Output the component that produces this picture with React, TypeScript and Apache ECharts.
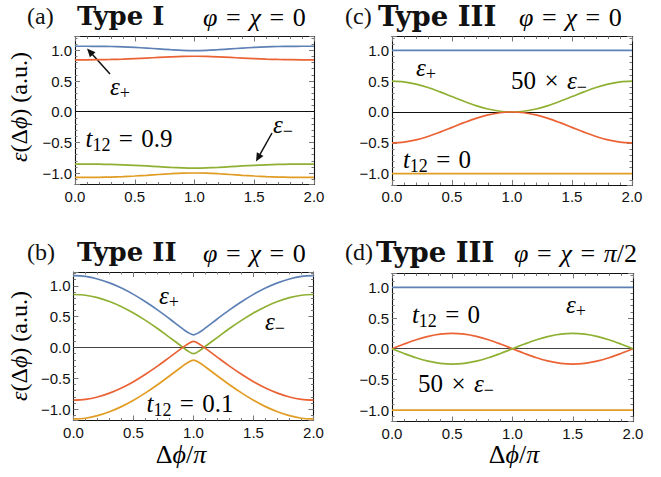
import React, { useEffect, useRef } from "react";
import * as echarts from "echarts";

// x positions (Δφ/π)
const X = [0, 0.1, 0.2, 0.3, 0.4, 0.5, 0.6, 0.7, 0.8, 0.9, 1.0, 1.1, 1.2, 1.3, 1.4, 1.5, 1.6, 1.7, 1.8, 1.9, 2.0];
const XB = [0, 0.1, 0.2, 0.3, 0.4, 0.5, 0.6, 0.7, 0.8, 0.9, 0.95, 1.0, 1.05, 1.1, 1.2, 1.3, 1.4, 1.5, 1.6, 1.7, 1.8, 1.9, 2.0];

// (a) Type I, t12 = 0.9
const aBlue = [1.066, 1.066, 1.065, 1.062, 1.056, 1.047, 1.036, 1.023, 1.01, 0.999, 0.995, 0.999, 1.01, 1.023, 1.036, 1.047, 1.056, 1.062, 1.065, 1.066, 1.066];
const aRed = [0.845, 0.845, 0.847, 0.851, 0.857, 0.865, 0.874, 0.884, 0.893, 0.9, 0.903, 0.9, 0.893, 0.884, 0.874, 0.865, 0.857, 0.851, 0.847, 0.845, 0.845];
const aGreen = [-0.852, -0.852, -0.854, -0.858, -0.864, -0.873, -0.883, -0.895, -0.906, -0.914, -0.917, -0.914, -0.906, -0.895, -0.883, -0.873, -0.864, -0.858, -0.854, -0.852, -0.852];
const aOrange = [-1.07, -1.07, -1.068, -1.064, -1.057, -1.047, -1.035, -1.022, -1.01, -1.001, -0.998, -1.001, -1.01, -1.022, -1.035, -1.047, -1.057, -1.064, -1.068, -1.07, -1.07];

// (b) Type II, t12 = 0.1
const bBlue = [1.165, 1.153, 1.112, 1.048, 0.965, 0.862, 0.742, 0.61, 0.467, 0.318, 0.248, 0.205, 0.248, 0.318, 0.467, 0.61, 0.742, 0.862, 0.965, 1.048, 1.112, 1.153, 1.165];
const bGreen = [0.86, 0.848, 0.808, 0.745, 0.662, 0.56, 0.44, 0.308, 0.165, 0.02, -0.052, -0.1, -0.052, 0.02, 0.165, 0.308, 0.44, 0.56, 0.662, 0.745, 0.808, 0.848, 0.86];
const bRed = [-0.855, -0.843, -0.803, -0.74, -0.657, -0.555, -0.435, -0.303, -0.16, -0.015, 0.052, 0.1, 0.052, -0.015, -0.16, -0.303, -0.435, -0.555, -0.657, -0.74, -0.803, -0.843, -0.855];
const bOrange = [-1.16, -1.148, -1.107, -1.043, -0.96, -0.857, -0.737, -0.605, -0.462, -0.316, -0.248, -0.205, -0.248, -0.316, -0.462, -0.605, -0.737, -0.857, -0.96, -1.043, -1.107, -1.148, -1.16];

// (c) Type III, φ = χ = 0, t12 = 0
const cBlue = [1.0, 1.0, 1.0, 1.0, 1.0, 1.0, 1.0, 1.0, 1.0, 1.0, 1.0, 1.0, 1.0, 1.0, 1.0, 1.0, 1.0, 1.0, 1.0, 1.0, 1.0];
const cGreen = [0.5, 0.488, 0.452, 0.397, 0.327, 0.25, 0.173, 0.103, 0.048, 0.012, 0.0, 0.012, 0.048, 0.103, 0.173, 0.25, 0.327, 0.397, 0.452, 0.488, 0.5];
const cRed = [-0.5, -0.488, -0.452, -0.397, -0.327, -0.25, -0.173, -0.103, -0.048, -0.012, 0.0, -0.012, -0.048, -0.103, -0.173, -0.25, -0.327, -0.397, -0.452, -0.488, -0.5];
const cOrange = [-1.0, -1.0, -1.0, -1.0, -1.0, -1.0, -1.0, -1.0, -1.0, -1.0, -1.0, -1.0, -1.0, -1.0, -1.0, -1.0, -1.0, -1.0, -1.0, -1.0, -1.0];

// (d) Type III, φ = χ = π/2, t12 = 0
const dBlue = [1.0, 1.0, 1.0, 1.0, 1.0, 1.0, 1.0, 1.0, 1.0, 1.0, 1.0, 1.0, 1.0, 1.0, 1.0, 1.0, 1.0, 1.0, 1.0, 1.0, 1.0];
const dRed = [0.0, 0.077, 0.147, 0.202, 0.238, 0.25, 0.238, 0.202, 0.147, 0.077, 0.0, -0.077, -0.147, -0.202, -0.238, -0.25, -0.238, -0.202, -0.147, -0.077, 0.0];
const dGreen = [0.0, -0.077, -0.147, -0.202, -0.238, -0.25, -0.238, -0.202, -0.147, -0.077, 0.0, 0.077, 0.147, 0.202, 0.238, 0.25, 0.238, 0.202, 0.147, 0.077, 0.0];
const dOrange = [-1.0, -1.0, -1.0, -1.0, -1.0, -1.0, -1.0, -1.0, -1.0, -1.0, -1.0, -1.0, -1.0, -1.0, -1.0, -1.0, -1.0, -1.0, -1.0, -1.0, -1.0];

const X_MIN = 0;
const X_MAX = 2;
const Y_MIN = -1.185;
const Y_MAX = 1.225;

const BLUE = "#5E81B5";
const RED = "#EB6235";
const GREEN = "#8FB032";
const ORANGE = "#E19C24";

const SERIF = "'Liberation Serif', serif";
const SERIF_BOLD = "'DejaVu Serif', serif";
const SANS = "'Liberation Sans', Arial, sans-serif";
const INK = "#1a1a1a";
const SP = "\u2004"; // three-per-em space (math-like spacing around = and ×)

const PANELS = [
  { grid: { left: 75, top: 36.5, width: 239, height: 148 }, xs: X, ys: [aBlue, aRed, aGreen, aOrange] },
  { grid: { left: 73.5, top: 272, width: 240, height: 148.5 }, xs: XB, ys: [bBlue, bGreen, bRed, bOrange] },
  { grid: { left: 392, top: 36.5, width: 240, height: 148.5 }, xs: X, ys: [cBlue, cGreen, cRed, cOrange] },
  { grid: { left: 392, top: 273.5, width: 241, height: 148 }, xs: X, ys: [dBlue, dRed, dGreen, dOrange] },
];
const COLORS_BY_PANEL = [
  [BLUE, RED, GREEN, ORANGE],
  [BLUE, GREEN, RED, ORANGE],
  [BLUE, GREEN, RED, ORANGE],
  [BLUE, RED, GREEN, ORANGE],
];

const fmt = (v: number) => {
  if (Math.abs(v * 2 - Math.round(v * 2)) > 1e-6) return "";
  const s = (Math.abs(v) < 1e-9 ? 0 : v).toFixed(1);
  return s.replace("-", "\u2212");
};

function makeRich(size: number, sub: number, lhScale = 1.25) {
  const lh = Math.round(size * lhScale);
  return {
    m: { fontFamily: SERIF, fontStyle: "italic", fontSize: size, lineHeight: lh, verticalAlign: "middle", color: INK },
    n: { fontFamily: SERIF, fontSize: size, lineHeight: lh, verticalAlign: "middle", color: INK },
    s: { fontFamily: SERIF, fontSize: sub, lineHeight: sub, verticalAlign: "bottom", color: INK },
  };
}
const RICH_ANN = makeRich(25, 18);
const RICH_YLAB = makeRich(24, 17);
const RICH_XLAB = makeRich(26, 18, 0.75);
const RICH_TITLE = makeRich(26, 18);

function richText(x: number, y: number, text: string, rich: any, extra: any = {}, align = "center") {
  return {
    type: "text",
    x,
    y,
    silent: true,
    ...extra,
    style: { text, rich, align, verticalAlign: "middle" },
  };
}

function plain(x: number, y: number, text: string, font: any) {
  return {
    type: "text",
    x,
    y,
    silent: true,
    style: { text, align: "left", verticalAlign: "middle", fill: "#111", ...font },
  };
}

function arrow(x1: number, y1: number, x2: number, y2: number) {
  const dx = x2 - x1;
  const dy = y2 - y1;
  const len = Math.sqrt(dx * dx + dy * dy);
  const ux = dx / len;
  const uy = dy / len;
  const hl = 8.5;
  const hw = 3.8;
  const bx = x2 - ux * hl;
  const by = y2 - uy * hl;
  return [
    { type: "line", silent: true, shape: { x1, y1, x2: bx + ux * 2, y2: by + uy * 2 }, style: { stroke: "#111", lineWidth: 1.5 } },
    {
      type: "polygon",
      silent: true,
      shape: { points: [[x2, y2], [bx - uy * hw, by + ux * hw], [bx + uy * hw, by - ux * hw]] },
      style: { fill: "#111" },
    },
  ];
}

const titleMath = (tail: string) =>
  `{m|\u03c6}{n|${SP}=${SP}}{m|\u03c7}{n|${SP}=${SP}}` + tail;

export default function App() {
  const ref = useRef<HTMLDivElement>(null);
  useEffect(() => {
    if (!ref.current) return;
    const chart = echarts.init(ref.current, null, { renderer: "svg" });

    const grid: any[] = [];
    const xAxis: any[] = [];
    const yAxis: any[] = [];
    const series: any[] = [];

    const tickStyle = { color: "#777", width: 1 };
    const frameLine = { show: true, onZero: false, lineStyle: { color: "#111", width: 1.1 } };

    PANELS.forEach((p, i) => {
      grid.push({ ...p.grid, containLabel: false });
      const common = {
        gridIndex: i,
        type: "value",
        splitLine: { show: false },
        axisLine: frameLine,
        axisTick: { show: true, inside: true, length: 5, lineStyle: tickStyle },
        minorTick: { show: true, inside: true, splitNumber: 5, length: 2.5, lineStyle: tickStyle },
      };
      xAxis.push({
        ...common,
        min: X_MIN,
        max: X_MAX,
        interval: 0.5,
        position: "bottom",
        axisLabel: { formatter: fmt, fontFamily: SANS, fontSize: 15, color: "#111", margin: 4 },
      });
      xAxis.push({ ...common, min: X_MIN, max: X_MAX, interval: 0.5, position: "top", axisLabel: { show: false } });
      yAxis.push({
        ...common,
        min: Y_MIN,
        max: Y_MAX,
        splitNumber: 5,
        position: "left",
        axisLabel: { formatter: fmt, fontFamily: SANS, fontSize: 15, color: "#111", margin: 3 },
      });
      yAxis.push({ ...common, min: Y_MIN, max: Y_MAX, splitNumber: 5, position: "right", axisLabel: { show: false } });

      p.ys.forEach((ys, k) => {
        const s: any = {
          type: "line",
          xAxisIndex: 2 * i,
          yAxisIndex: 2 * i,
          data: p.xs.map((x, j) => [x, ys[j]]),
          smooth: 0.35,
          showSymbol: false,
          symbol: "none",
          lineStyle: { color: COLORS_BY_PANEL[i][k], width: 1.7 },
          z: 3,
          silent: true,
        };
        if (k === 0) {
          s.markLine = {
            silent: true,
            symbol: "none",
            label: { show: false },
            lineStyle: { color: i === 1 || i === 3 ? "#444" : "#111", width: 1.1, type: "solid" },
            data: [{ yAxis: 0 }],
            z: 2,
          };
        }
        series.push(s);
      });
    });

    const titleY1 = 16;
    const titleY2 = 252;
    const fParen = { fontFamily: SERIF, fontSize: 24 };
    const fBold = { fontFamily: SERIF_BOLD, fontWeight: "bold", fontSize: 26 };
    const fBold3 = { fontFamily: SERIF_BOLD, fontWeight: "bold", fontSize: 27.5 };

    const graphic: any[] = [
      // titles
      plain(27, titleY1, "(a)", fParen),
      plain(77, titleY1 - 0.5, "Type I", fBold),
      richText(203, titleY1 + 1, titleMath("{n|0}"), RICH_TITLE, {}, "left"),
      plain(27, titleY2, "(b)", fParen),
      plain(77, titleY2 - 0.5, "Type II", fBold),
      richText(203, titleY2 + 1, titleMath("{n|0}"), RICH_TITLE, {}, "left"),
      plain(345, titleY1, "(c)", fParen),
      plain(378, titleY1 - 0.5, "Type III", fBold3),
      richText(519, titleY1 + 1, titleMath("{n|0}"), RICH_TITLE, {}, "left"),
      plain(345, titleY2, "(d)", fParen),
      plain(376, titleY2 - 0.5, "Type III", fBold3),
      richText(514, titleY2 + 1, titleMath("{m|\u03c0}{n|/2}"), RICH_TITLE, {}, "left"),
      // y-axis labels
      richText(19, 107, "{m|\u03b5}{n|(\u0394}{m|\u03d5}{n|) (a.u.)}", RICH_YLAB, { rotation: Math.PI / 2 }),
      richText(19, 346, "{m|\u03b5}{n|(\u0394}{m|\u03d5}{n|) (a.u.)}", RICH_YLAB, { rotation: Math.PI / 2 }),
      // x-axis labels
      richText(181, 454, "{n|\u0394}{m|\u03d5}{n|/}{m|\u03c0}", RICH_XLAB),
      richText(514, 454, "{n|\u0394}{m|\u03d5}{n|/}{m|\u03c0}", RICH_XLAB),
      // panel a annotations
      richText(120, 86, "{m|\u03b5}{s|+}", RICH_ANN),
      richText(129, 138, `{m|t}{s|12}{n|${SP}=${SP}0.9}`, RICH_ANN),
      richText(283, 124, "{m|\u03b5}{s|\u2212}", RICH_ANN),
      ...arrow(110, 74, 87, 48.5),
      ...arrow(272, 133, 256, 161.5),
      // panel b annotations
      richText(169, 295, "{m|\u03b5}{s|+}", RICH_ANN),
      richText(275, 321, "{m|\u03b5}{s|\u2212}", RICH_ANN),
      richText(190, 403, `{m|t}{s|12}{n|${SP}=${SP}0.1}`, RICH_ANN),
      // panel c annotations
      richText(426, 67, "{m|\u03b5}{s|+}", RICH_ANN),
      richText(549, 80, `{n|50${SP}\u00d7${SP}}{m|\u03b5}{s|\u2212}`, RICH_ANN),
      richText(437, 159, `{m|t}{s|12}{n|${SP}=${SP}0}`, RICH_ANN),
      // panel d annotations
      richText(446, 314, `{m|t}{s|12}{n|${SP}=${SP}0}`, RICH_ANN),
      richText(576, 304, "{m|\u03b5}{s|+}", RICH_ANN),
      richText(456, 383, `{n|50${SP}\u00d7${SP}}{m|\u03b5}{s|\u2212}`, RICH_ANN),
    ];

    chart.setOption({
      animation: false,
      backgroundColor: "#fff",
      grid,
      xAxis,
      yAxis,
      series,
      graphic,
    });
    return () => chart.dispose();
  }, []);
  return (
    <div
      ref={ref}
      style={{ position: "absolute", left: 0, top: 0, width: 661, height: 477, background: "#fff" }}
    />
  );
}
